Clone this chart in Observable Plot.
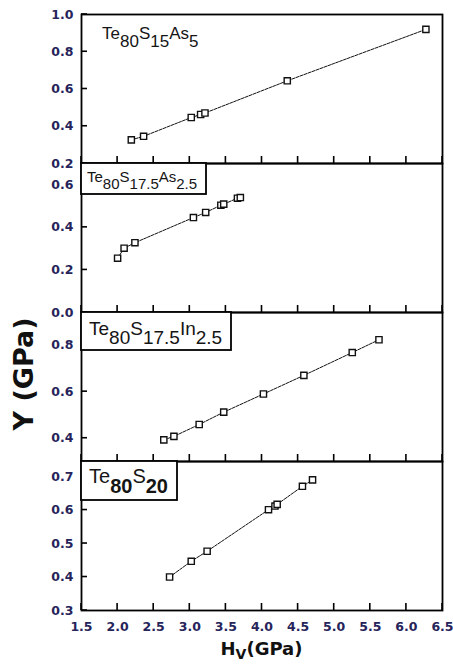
<!DOCTYPE html>
<html>
<head>
<meta charset="utf-8">
<script src="https://cdn.jsdelivr.net/npm/d3@7"></script>
<script src="https://cdn.jsdelivr.net/npm/@observablehq/plot@0.6"></script>
<style>
  html, body { margin: 0; padding: 0; background: white; }
  #wrap { position: relative; width: 453px; height: 664px; overflow: hidden; background: white; }
  #wrap > svg { position: absolute; left: 0; }
</style>
</head>
<body>
<div id="wrap"></div>
<script>
// ---- data ----
const xTicks = [1.5, 2.0, 2.5, 3.0, 3.5, 4.0, 4.5, 5.0, 5.5, 6.0, 6.5];
const xDomain = [1.5, 6.5];

// Panel 1: Te80S15As5
const p1Hv = [2.19, 2.36, 3.02, 3.15, 3.21, 4.35, 6.27];
const p1Y  = [0.327, 0.346, 0.447, 0.463, 0.471, 0.644, 0.920];
const p1Ticks = [0.2, 0.4, 0.6, 0.8, 1.0];

// Panel 2: Te80S17.5As2.5
const p2Hv = [2.00, 2.09, 2.24, 3.05, 3.22, 3.43, 3.47, 3.66, 3.70];
const p2Y  = [0.255, 0.302, 0.328, 0.446, 0.470, 0.504, 0.509, 0.537, 0.540];
const p2Ticks = [0.0, 0.2, 0.4, 0.6];

// Panel 3: Te80S17.5In2.5
const p3Hv = [2.64, 2.78, 3.13, 3.47, 4.02, 4.58, 5.25, 5.62];
const p3Y  = [0.393, 0.408, 0.459, 0.512, 0.590, 0.670, 0.768, 0.823];
const p3Ticks = [0.4, 0.6, 0.8];

// Panel 4: Te80S20
const p4Hv = [2.72, 3.02, 3.24, 4.09, 4.18, 4.21, 4.56, 4.70];
const p4Y  = [0.400, 0.447, 0.477, 0.601, 0.612, 0.617, 0.671, 0.690];
const p4Ticks = [0.3, 0.4, 0.5, 0.6, 0.7];

const yDomains = [[0.2, 1.0], [0.0, 0.7], [0.3, 0.94], [0.3, 0.745]];

// ---- layout ----
const W = 453;
const mL = 81, mR = 11;
const frameTop = 14, panelH = 149, padT = 10, padB = 10, lastPadB = 54;
const tickColor = "#26245a";
const plotW = W - mL - mR;
const xTickLen = 7, yTickLen = 6, tickW = 1.6;

const panels = [
  {hv: p1Hv, y: p1Y, ticks: p1Ticks},
  {hv: p2Hv, y: p2Y, ticks: p2Ticks},
  {hv: p3Hv, y: p3Y, ticks: p3Ticks},
  {hv: p4Hv, y: p4Y, ticks: p4Ticks}
];

const wrap = document.getElementById("wrap");

panels.forEach((p, i) => {
  const last = i === panels.length - 1;
  const yd = yDomains[i];
  const data = p.hv.map((x, j) => ({hv: x, y: p.y[j]}));
  // pixel sizes of the inward tick marks, converted into this panel's data units
  const xu = (xDomain[1] - xDomain[0]) / plotW;
  const yu = (yd[1] - yd[0]) / panelH;
  const chart = Plot.plot({
    width: W,
    height: padT + panelH + (last ? lastPadB : padB),
    marginTop: padT,
    marginBottom: last ? lastPadB : padB,
    marginLeft: mL,
    marginRight: mR,
    style: {background: "none", overflow: "visible", fontFamily: "DejaVu Sans", fontSize: "12.5px", fontWeight: "bold"},
    x: {domain: xDomain, axis: null},
    y: {domain: yd, axis: null},
    marks: [
      Plot.axisY({ticks: p.ticks, tickSize: 0, tickPadding: 8, tickFormat: d3.format(".1f"), fill: tickColor, label: null}),
      last ? Plot.axisX({ticks: xTicks, tickSize: 0, tickPadding: 12, tickFormat: d3.format(".1f"), fill: tickColor, label: null}) : null,
      Plot.line(data, {x: "hv", y: "y", stroke: "#111", strokeWidth: 1, strokeDasharray: "3,1.2"}),
      Plot.dot(data, {x: "hv", y: "y", symbol: "square", r: 3.5, stroke: "#111", strokeWidth: 1.4, fill: "white"}),
      // inward tick marks (thin filled rects)
      Plot.rect(p.ticks, {x1: xDomain[0], x2: xDomain[0] + yTickLen * xu, y1: d => d - yu * tickW / 2, y2: d => d + yu * tickW / 2, fill: "#000"}),
      Plot.rect(xTicks, {x1: d => d - xu * tickW / 2, x2: d => d + xu * tickW / 2, y1: yd[0], y2: yd[0] + xTickLen * yu, fill: "#000"}),
      Plot.frame({stroke: "black", strokeWidth: 1.8})
    ]
  });
  chart.style.top = (frameTop + i * panelH - padT) + "px";
  wrap.appendChild(chart);
});

// ---- overlay: panel labels and axis titles ----
const ov = d3.select(wrap).append("svg")
  .attr("width", W).attr("height", 664)
  .style("top", "0px").style("overflow", "visible").style("pointer-events", "none");

function chem(g, x, y, size, parts, opts = {}) {
  const t = g.append("text").attr("x", x).attr("y", y)
    .attr("font-family", "Liberation Sans, Arial, sans-serif")
    .attr("font-size", size).attr("fill", "#151515");
  const d = size * 0.48;
  let low = false;
  parts.forEach(([s, sub]) => {
    const ts = t.append("tspan").text(s);
    if (sub && !low) { ts.attr("dy", d); low = true; }
    else if (!sub && low) { ts.attr("dy", -d); low = false; }
    if (sub && opts.boldSub) ts.attr("font-weight", "bold");
  });
  return t;
}

// label boxes (panels 2-4)
const boxes = [
  {x: 81, y: 163, w: 125, h: 31},
  {x: 81, y: 312, w: 150, h: 38},
  {x: 81, y: 461, w: 96, h: 39}
];
boxes.forEach(b => {
  ov.append("rect").attr("x", b.x).attr("y", b.y).attr("width", b.w).attr("height", b.h)
    .attr("fill", "white").attr("stroke", "black").attr("stroke-width", 1.8);
});

chem(ov, 102, 39, 17, [["Te"], ["80", 1], ["S"], ["15", 1], ["As"], ["5", 1]]);
chem(ov, 87, 182, 15, [["Te"], ["80", 1], ["S"], ["17.5", 1], ["As"], ["2.5", 1]]);
chem(ov, 89, 335, 19, [["Te"], ["80", 1], ["S"], ["17.5", 1], ["In"], ["2.5", 1]]);
chem(ov, 89, 483, 20, [["Te"], ["80", 1], ["S"], ["20", 1]], {boldSub: true});

// y title
ov.append("text")
  .attr("transform", "translate(23,374) rotate(-90)")
  .attr("text-anchor", "middle").attr("dominant-baseline", "central")
  .attr("font-family", "DejaVu Sans").attr("font-weight", "bold").attr("font-size", 27)
  .attr("fill", "#111")
  .text("Y (GPa)");

// x title
const xt = ov.append("text")
  .attr("x", 261.5).attr("y", 655).attr("text-anchor", "middle")
  .attr("font-family", "DejaVu Sans").attr("font-weight", "bold").attr("font-size", 18)
  .attr("fill", "#111");
xt.append("tspan").text("H");
xt.append("tspan").attr("dy", 4).attr("font-size", 14).text("V");
xt.append("tspan").attr("dy", -4).text("(GPa)");
</script>
</body>
</html>
